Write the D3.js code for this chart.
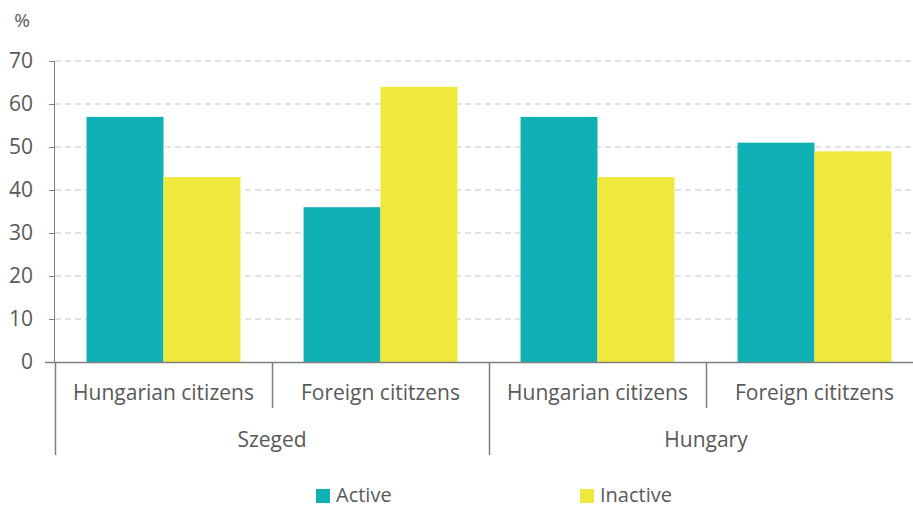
<!DOCTYPE html>
<html>
<head>
<meta charset="utf-8">
<script src="https://cdn.jsdelivr.net/npm/d3@7"></script>
<style>
  body { margin: 0; background: #fff; }
  text { font-family: "Open Sans", "Noto Sans", sans-serif; fill: #595959; }
</style>
</head>
<body>
<div id="chart"></div>
<script>
// data
const regions = ["Szeged", "Hungary"];
const groups = ["Hungarian citizens", "Foreign cititzens"];
const series = ["Active", "Inactive"];
const activeValues = [57, 36, 57, 51];
const inactiveValues = [43, 64, 43, 49];
const yTicks = [0, 10, 20, 30, 40, 50, 60, 70];
const colors = ["#10b1b4", "#f0e93d"];

const width = 913, height = 508;
const margin = {top: 61, right: -10, bottom: 146, left: 55};
const fontSize = "21px";

// one row per bar cluster
const data = [];
regions.forEach((r, i) => groups.forEach((g, j) => {
  const k = i * groups.length + j;
  data.push({key: r + "|" + g, region: r, group: g, values: [activeValues[k], inactiveValues[k]]});
}));

const svg = d3.select("#chart").append("svg")
  .attr("width", width)
  .attr("height", height);

const x = d3.scaleBand()
  .domain(data.map(d => d.key))
  .range([margin.left, width - margin.right]);

const xInner = d3.scaleBand()
  .domain(series)
  .range([0, x.bandwidth()])
  .paddingOuter(0.41);

const y = d3.scaleLinear()
  .domain([0, 70])
  .range([height - margin.bottom, margin.top]);

// dashed grid
svg.append("g")
  .selectAll("line")
  .data(yTicks.filter(d => d > 0))
  .enter().append("line")
  .attr("x1", margin.left)
  .attr("x2", width)
  .attr("y1", d => y(d))
  .attr("y2", d => y(d))
  .attr("stroke", "#c6c6c6")
  .attr("stroke-width", 1)
  .attr("stroke-dasharray", "6,4");

// bars
svg.append("g")
  .selectAll("g")
  .data(data)
  .enter().append("g")
  .attr("transform", d => `translate(${x(d.key)},0)`)
  .selectAll("rect")
  .data(d => d.values.map((v, i) => ({s: series[i], v: v})))
  .enter().append("rect")
  .attr("x", d => xInner(d.s))
  .attr("y", d => y(d.v))
  .attr("width", xInner.bandwidth())
  .attr("height", d => y(0) - y(d.v))
  .attr("fill", (d, i) => colors[i]);

// y axis
const yAxis = svg.append("g")
  .attr("transform", `translate(${margin.left},0)`)
  .call(d3.axisLeft(y).tickValues(yTicks).tickSize(6).tickPadding(16));
yAxis.select(".domain").attr("stroke", "#7f7f7f").attr("d", `M-0.5,${y(70)}V${y(0)}`);
yAxis.selectAll(".tick line").attr("stroke", "#7f7f7f");
yAxis.selectAll("text")
  .style("font-size", fontSize)
  .style("font-family", "'Open Sans', sans-serif")
  .attr("fill", "#595959");

svg.append("text")
  .attr("x", 22)
  .attr("y", 27)
  .attr("text-anchor", "middle")
  .style("font-size", "19px")
  .text("%");

// x axis baseline
const base = y(0);
svg.append("line")
  .attr("x1", margin.left - 10)
  .attr("x2", width)
  .attr("y1", base + 0.5)
  .attr("y2", base + 0.5)
  .attr("stroke", "#7f7f7f")
  .attr("stroke-width", 1.5);

// group labels (first row)
svg.append("g")
  .selectAll("text")
  .data(data)
  .enter().append("text")
  .attr("x", d => x(d.key) + x.bandwidth() / 2)
  .attr("y", base + 38)
  .attr("text-anchor", "middle")
  .style("font-size", fontSize)
  .text(d => d.group);

// short separators between groups inside a region
svg.append("g")
  .selectAll("line")
  .data(data.filter((d, i) => i % groups.length !== 0))
  .enter().append("line")
  .attr("x1", d => Math.round(x(d.key)) + 0.5)
  .attr("x2", d => Math.round(x(d.key)) + 0.5)
  .attr("y1", base)
  .attr("y2", base + 46)
  .attr("stroke", "#7f7f7f")
  .attr("stroke-width", 1.5);

// long separators between regions
const regionStarts = regions.map((r, i) => x(data[i * groups.length].key));
svg.append("g")
  .selectAll("line")
  .data(regionStarts)
  .enter().append("line")
  .attr("x1", d => Math.round(d) + 0.5)
  .attr("x2", d => Math.round(d) + 0.5)
  .attr("y1", base)
  .attr("y2", base + 93)
  .attr("stroke", "#7f7f7f")
  .attr("stroke-width", 1.5);

// region labels (second row)
svg.append("g")
  .selectAll("text")
  .data(regions)
  .enter().append("text")
  .attr("x", (r, i) => regionStarts[i] + x.bandwidth() * groups.length / 2)
  .attr("y", base + 85)
  .attr("text-anchor", "middle")
  .style("font-size", fontSize)
  .text(d => d);

// legend
const legendX = [316, 580];
const legend = svg.append("g")
  .selectAll("g")
  .data(series)
  .enter().append("g")
  .attr("transform", (d, i) => `translate(${legendX[i]},489)`);
legend.append("rect")
  .attr("width", 14)
  .attr("height", 14)
  .attr("fill", (d, i) => colors[i]);
legend.append("text")
  .attr("x", 20)
  .attr("y", 13)
  .style("font-size", "20px")
  .text(d => d);
</script>
</body>
</html>
